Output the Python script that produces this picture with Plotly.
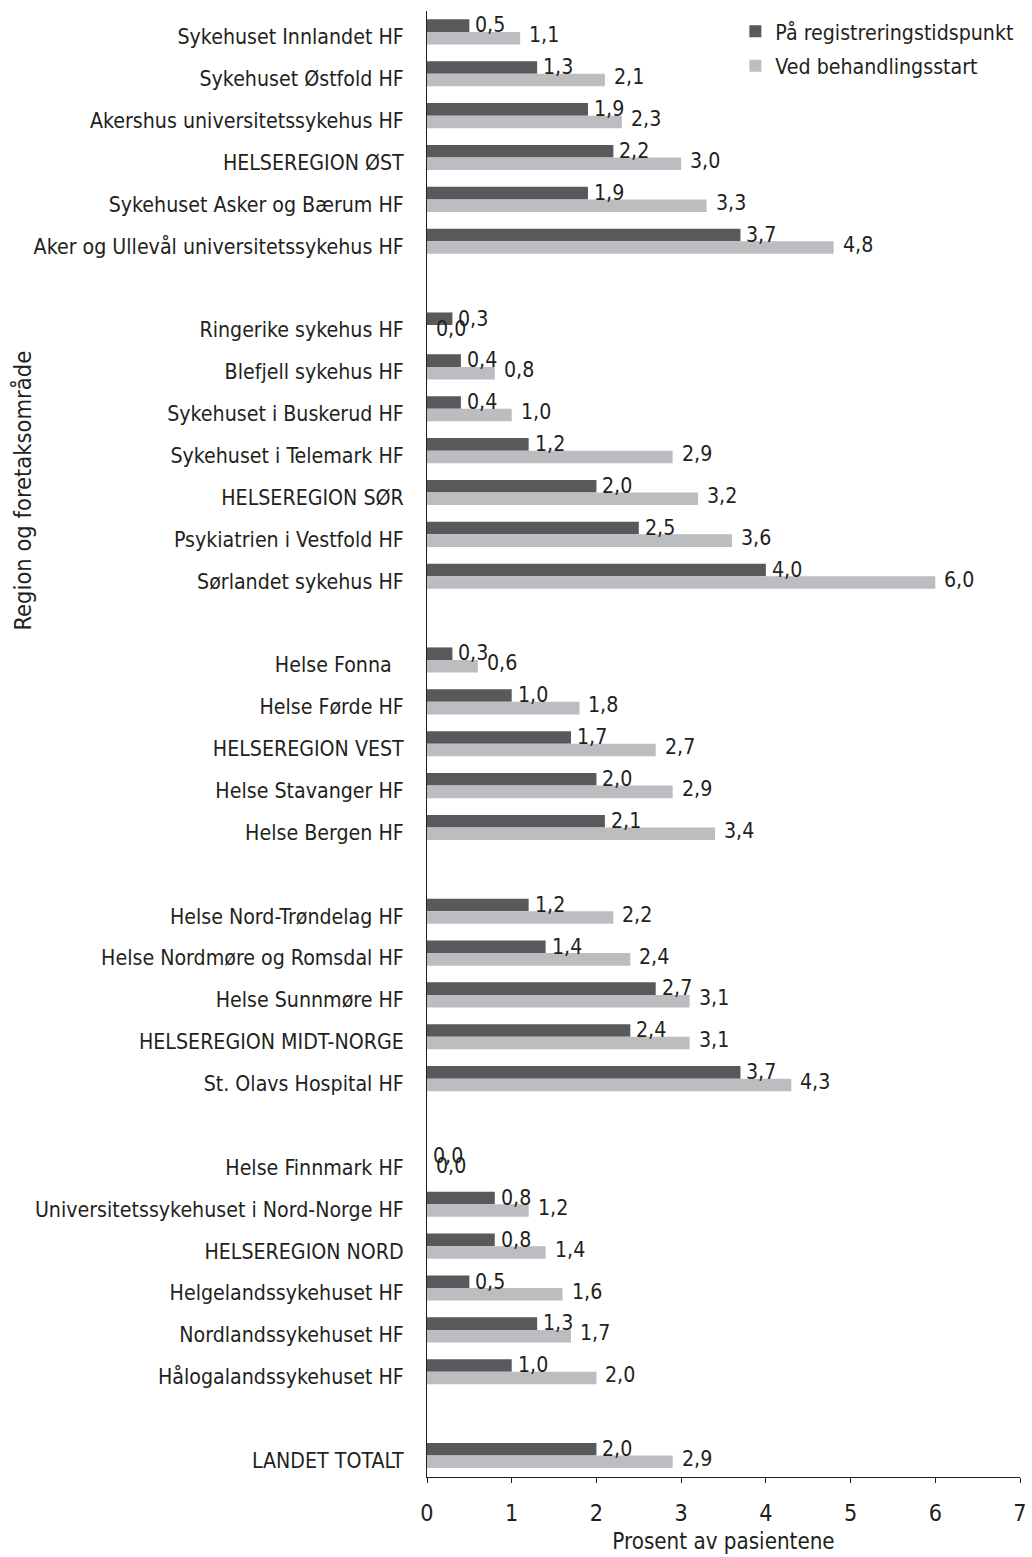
import plotly.graph_objects as go

categories = [
    "Sykehuset Innlandet HF", "Sykehuset Østfold HF", "Akershus universitetssykehus HF",
    "HELSEREGION ØST", "Sykehuset Asker og Bærum HF", "Aker og Ullevål universitetssykehus HF",
    " ",
    "Ringerike sykehus HF", "Blefjell sykehus HF", "Sykehuset i Buskerud HF",
    "Sykehuset i Telemark HF", "HELSEREGION SØR", "Psykiatrien i Vestfold HF", "Sørlandet sykehus HF",
    "  ",
    "Helse Fonna  ", "Helse Førde HF", "HELSEREGION VEST", "Helse Stavanger HF", "Helse Bergen HF",
    "   ",
    "Helse Nord-Trøndelag HF", "Helse Nordmøre og Romsdal HF", "Helse Sunnmøre HF",
    "HELSEREGION MIDT-NORGE", "St. Olavs Hospital HF",
    "    ",
    "Helse Finnmark HF", "Universitetssykehuset i Nord-Norge HF", "HELSEREGION NORD",
    "Helgelandssykehuset HF", "Nordlandssykehuset HF", "Hålogalandssykehuset HF",
    "     ",
    "LANDET TOTALT",
]

registrering = [
    0.5, 1.3, 1.9, 2.2, 1.9, 3.7,
    None,
    0.3, 0.4, 0.4, 1.2, 2.0, 2.5, 4.0,
    None,
    0.3, 1.0, 1.7, 2.0, 2.1,
    None,
    1.2, 1.4, 2.7, 2.4, 3.7,
    None,
    0.0, 0.8, 0.8, 0.5, 1.3, 1.0,
    None,
    2.0,
]

behandling = [
    1.1, 2.1, 2.3, 3.0, 3.3, 4.8,
    None,
    0.0, 0.8, 1.0, 2.9, 3.2, 3.6, 6.0,
    None,
    0.6, 1.8, 2.7, 2.9, 3.4,
    None,
    2.2, 2.4, 3.1, 3.1, 4.3,
    None,
    0.0, 1.2, 1.4, 1.6, 1.7, 2.0,
    None,
    2.9,
]

series_names = ["På registreringstidspunkt", "Ved behandlingsstart"]
x_ticks = [0, 1, 2, 3, 4, 5, 6, 7]

FONT = "DejaVu Sans Condensed, Roboto, Arial, sans-serif"
FS = 21.2
DARK = "#58595b"
LIGHT = "#bcbdc0"
TXT = "#231f20"

fig = go.Figure()
fig.add_trace(go.Bar(y=categories, x=registrering, orientation="h", name=series_names[0],
                     legendgroup="a", marker=dict(color=DARK, line=dict(width=0))))
fig.add_trace(go.Bar(y=categories, x=behandling, orientation="h", name=series_names[1],
                     legendgroup="b", marker=dict(color=LIGHT, line=dict(width=0))))

def fmt(v):
    return f"{v:.1f}".replace(".", ",")

annotations = []
for cat, a, b in zip(categories, registrering, behandling):
    if a is None:
        continue
    annotations.append(dict(x=a, y=cat, xref="x", yref="y", text=fmt(a), showarrow=False,
                            xanchor="left", yanchor="middle", xshift=4, yshift=7,
                            font=dict(family=FONT, size=FS, color=TXT)))
    annotations.append(dict(x=b, y=cat, xref="x", yref="y", text=fmt(b), showarrow=False,
                            xanchor="left", yanchor="middle", xshift=7, yshift=-3,
                            font=dict(family=FONT, size=FS, color=TXT)))

annotations.append(dict(x=-0.681, y=0.673, xref="paper", yref="paper", text="Region og foretaksområde",
                        textangle=-90, showarrow=False, xanchor="center", yanchor="middle",
                        font=dict(family=FONT, size=23.5, color=TXT)))

fig.update_layout(
    width=1032, height=1557,
    margin=dict(l=427, r=12, t=11, b=80, autoexpand=False),
    paper_bgcolor="white", plot_bgcolor="white",
    barmode="group", bargap=0.40, bargroupgap=0,
    font=dict(family=FONT, size=FS, color=TXT),
    showlegend=True,
    legend=dict(x=0.52, y=1.0, xanchor="left", yanchor="top",
                font=dict(family=FONT, size=FS, color=TXT),
                bgcolor="rgba(0,0,0,0)", itemwidth=30, tracegroupgap=4),
    annotations=annotations,
)
fig.update_xaxes(range=[0, 7], tickvals=x_ticks, ticks="outside", ticklen=5, tickcolor=TXT,
                 showline=True, linecolor=TXT, linewidth=1, showgrid=False, zeroline=False,
                 automargin=False, ticklabelstandoff=10,
                 title=dict(text="Prosent av pasientene", standoff=8, font=dict(family=FONT, size=FS + 1)),
                 tickfont=dict(family=FONT, size=FS + 2))
fig.update_yaxes(categoryorder="array", categoryarray=categories, autorange="reversed",
                 showline=True, linecolor=TXT, linewidth=1, showgrid=False, ticks="",
                 automargin=False, ticklabelstandoff=18, ticklabelshift=-5,
                 tickfont=dict(family=FONT, size=FS))

fig.write_html("out.html", config={"displayModeBar": False},
               post_script="document.body.style.margin='0';")
